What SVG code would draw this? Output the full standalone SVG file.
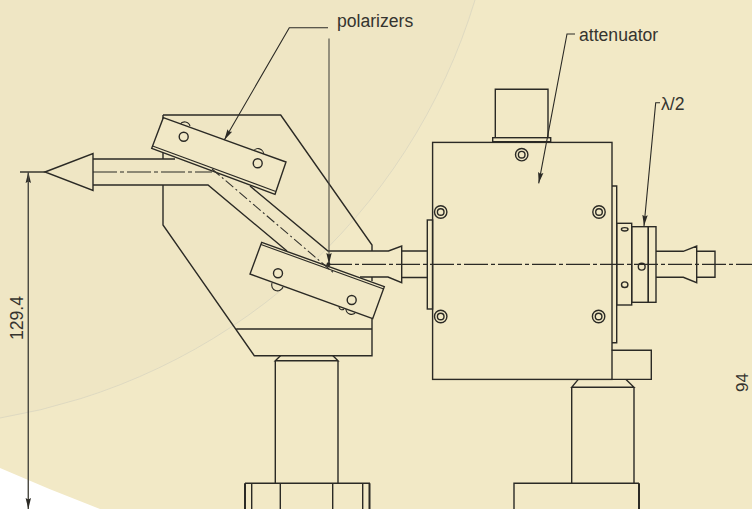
<svg xmlns="http://www.w3.org/2000/svg" width="752" height="509" viewBox="0 0 752 509">
<style>
.l{fill:none;stroke:#2b2a25;stroke-width:1.4;stroke-linejoin:miter}
.f{fill:#f1e8c6;stroke:#2b2a25;stroke-width:1.4}
.n{fill:none;stroke:#2b2a25;stroke-width:1.1}
.c{fill:none;stroke:#2b2a25;stroke-width:1.2;stroke-dasharray:24 3 4 3}
.d{fill:none;stroke:#33322d;stroke-width:1.1;stroke-dasharray:10 3 2 3}
.t{font-family:"Liberation Sans",Arial,sans-serif;font-size:17.6px;fill:#35342f}
.h{fill:#2b2a25}
</style>
<defs>
<marker id="a" markerUnits="userSpaceOnUse" markerWidth="12" markerHeight="7" refX="11" refY="3.5" orient="auto"><path d="M0,.8L11,3.5L0,6.2L1.5,3.5Z" fill="#2b2a25"/></marker>
</defs>
<rect width="752" height="509" fill="#f2e9c6"/>
<path d="M0,468Q50,490 100,509L0,509Z" fill="#fff"/>
<path d="M0,418A600,600 0 0 0 475,0L0,0Z" fill="#efe6c4"/>
<path d="M0,418A600,600 0 0 0 475,0" fill="none" stroke="#d9d5c0" stroke-width=".8"/>

<g id="mount-left">
<path class="l" d="M280.7,355.5L275.3,360.7H338L332.7,355.5M275.3,360.7V483.3M338,360.7V483.3"/>
<path class="l" d="M245,483.3H370M251.7,483.3V509M280.3,483.3V509M332.7,483.3V509M362.7,483.3V509"/>
<path class="l" style="stroke-width:2" d="M245,483.3V509M369.5,483.3V509"/>
</g>
<g id="block">
<path class="l" d="M163,115H280.7L372,245V251M372,277V281M372,318V355.7H254.3L163,225V185M163,153V159M163,115V120M236.3,329H372"/>
</g>
<g id="beam-tube">
<path class="l" d="M93,159H175M93,185H208L287,251M250,186L328,251H388.5L401.7,246V282.7L388,277H360"/>
<path class="l" d="M45,172L93,153.5V190.5Z"/>
</g>
<g id="polarizer-1">
<path class="n" d="M180,124.5A5.5,5.5 0 0 1 190,126M253,152A5.5,5.5 0 0 1 263.5,155"/>
<path class="f" d="M163.3,117.7L286,162L275,194.3L151.7,148.3Z"/>
<path class="n" d="M152.6,146L275.8,191.5"/>
<circle class="l" cx="183.7" cy="136.7" r="4.5"/>
<circle class="l" cx="257.7" cy="163.3" r="4.5"/>
</g>
<g id="polarizer-2">
<path class="n" d="M272,283A5.5,5.5 0 0 0 283,287M346,309A5.5,5.5 0 0 0 356,312M339,307A3,3 0 0 0 344,309"/>
<path class="f" d="M261.7,242.3L384.3,286.7L372.7,318.7L250,274Z"/>
<path class="n" d="M261,244.5L383.7,289"/>
<circle class="l" cx="278" cy="273.3" r="4.5"/>
<circle class="l" cx="351.7" cy="300" r="4.5"/>
</g>
<g id="attenuator">
<path class="l" d="M495.3,137V89.3H548V137"/>
<rect class="l" x="492.7" y="137.7" width="58" height="4"/>
<rect class="l" x="432.6" y="142.4" width="179.4" height="237"/>
<path class="n" d="M508.3,141.7V142.4M535,141.7V142.4"/>
<path class="l" d="M402,251H427.3M402,277.5H427.3"/>
<rect class="l" x="427.3" y="220" width="5.3" height="89"/>
<path class="l" d="M612,186H616.7V342.7H612"/>
<path class="l" d="M611.7,350.3H651.3V379.4H611.7"/>
</g>
<g id="screws" class="l">
<circle cx="521.7" cy="154.7" r="6.2"/><circle cx="521.7" cy="154.7" r="3.3"/>
<circle cx="440.7" cy="212" r="6.2"/><circle cx="440.7" cy="212" r="3.3"/>
<circle cx="599" cy="212" r="6.2"/><circle cx="599" cy="212" r="3.3"/>
<circle cx="440.7" cy="316.5" r="6.2"/><circle cx="440.7" cy="316.5" r="3.3"/>
<circle cx="598.6" cy="316.5" r="6.2"/><circle cx="598.6" cy="316.5" r="3.3"/>
</g>
<g id="waveplate">
<rect class="l" x="616.7" y="223.3" width="15" height="81.7"/>
<rect class="l" x="631.7" y="226.7" width="16.6" height="75.6"/>
<rect class="l" x="648.3" y="226.7" width="7.7" height="75.6"/>
<path class="l" d="M656,251.3H683.3L696.7,246V282.7L683.3,277.3H656M696.7,251.3H715V277.3H696.7"/>
<ellipse class="l" cx="624.7" cy="229.3" rx="3.3" ry="1.7"/>
<ellipse class="l" cx="624.7" cy="284.7" rx="3.2" ry="2.8"/>
<circle class="l" cx="641.7" cy="266.7" r="3.4"/>
</g>
<g id="mount-right">
<path class="l" d="M578.3,379.4L571.7,387.3H634L626,379.4M571.7,387.3V483.3M634,387.3V483.3"/>
<path class="l" d="M514,509V483.3H639"/>
<path class="l" style="stroke-width:2" d="M639,483.3V509"/>
</g>
<g id="connectors">
<path class="l" d="M20,172H45"/>
<path class="c" d="M93,172H212"/>
<path class="d" d="M212,169L335,274"/>
<path class="c" d="M328,264.3H752"/>
<path class="n" d="M329,38.5V264" marker-end="url(#a)" style="stroke:#4a4942"/>
<path class="n" d="M328,27.7H289.3L224.3,140" marker-end="url(#a)"/>
<path class="n" d="M575,34H567L538.7,183.3" marker-end="url(#a)"/>
<path class="n" d="M660,102.7H655.7L644,226" marker-end="url(#a)"/>
<path class="n" d="M28.3,509V172" marker-end="url(#a)" style="stroke:#4a4942"/>
<path class="n" d="M28.3,172V509" marker-end="url(#a)" style="stroke:#4a4942"/>
<circle class="h" cx="328.5" cy="264.3" r="2"/>
</g>
<g id="labels">
<text class="t" x="337" y="26.7">polarizers</text>
<text class="t" x="579" y="41">attenuator</text>
<text class="t" x="661" y="110">λ/2</text>
<text class="t" transform="translate(23 340) rotate(-90)">129.4</text>
<text class="t" transform="translate(748.2 392) rotate(-90)" style="font-size:17px">94</text>
</g>
</svg>
